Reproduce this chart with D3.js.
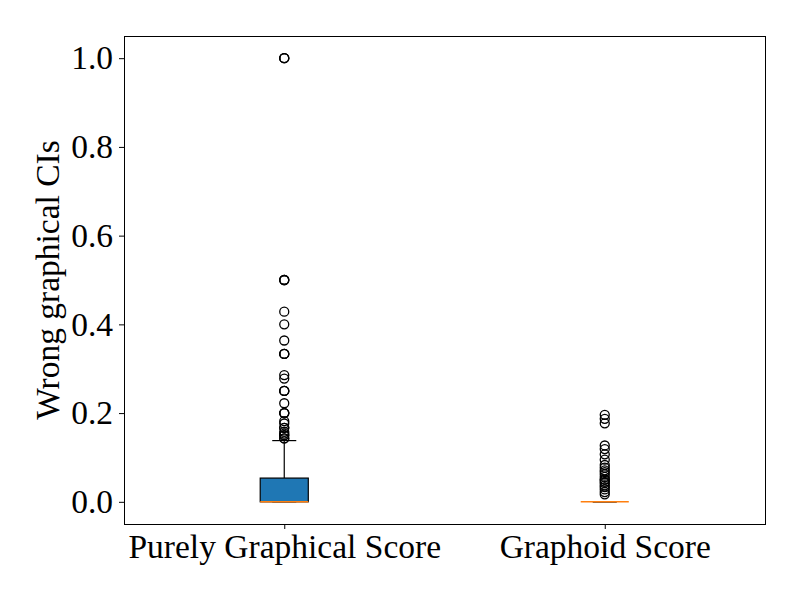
<!DOCTYPE html>
<html>
<head>
<meta charset="utf-8">
<script src="https://cdn.jsdelivr.net/npm/d3@7"></script>
<style>
  body { margin: 0; background: #fff; }
  text { font-family: "Liberation Serif", "DejaVu Serif", serif; }
</style>
</head>
<body>
<div id="chart"></div>
<script>
const WIDTH = 800;
const HEIGHT = 600;
const MARGIN = { top: 36, right: 35, bottom: 76, left: 124 };
const FONT_SIZE = 33.5;

// box statistics per group
const categories = ['Purely Graphical Score', 'Graphoid Score'];
const whiskerLow = [0, 0];
const q1 = [0, 0];
const median = [0, 0];
const q3 = [0.0535, 0];
const whiskerHigh = [0.138, 0];

// fliers (repeated values are points drawn on top of each other)
const outliersPurely = [1.0, 1.0, 1.0, 0.5, 0.5, 0.5, 0.4286, 0.4, 0.3636, 0.3333, 0.3333, 0.3333,
  0.2857, 0.2778, 0.25, 0.25, 0.25, 0.2222, 0.2, 0.2, 0.2,
  0.1818, 0.1765, 0.1667, 0.1667, 0.1579, 0.1538, 0.15, 0.15, 0.1429, 0.1429];
const outliersGraphoid = [0.196, 0.187, 0.177, 0.127, 0.119, 0.107, 0.095,
  0.083, 0.077, 0.071, 0.067, 0.062, 0.056, 0.05, 0.05, 0.045, 0.042, 0.037, 0.033, 0.028, 0.022, 0.017];
const outliers = [outliersPurely, outliersGraphoid];

const yTicks = [0.0, 0.2, 0.4, 0.6, 0.8, 1.0];

const svg = d3.select('#chart')
  .append('svg')
  .attr('width', WIDTH)
  .attr('height', HEIGHT);

const x = d3.scaleLinear()
  .domain([0.5, 2.5])
  .range([MARGIN.left, WIDTH - MARGIN.right]);

const y = d3.scaleLinear()
  .domain([-0.05, 1.05])
  .range([HEIGHT - MARGIN.bottom, MARGIN.top]);

const boxW = x(1.15) - x(1);
const capW = boxW / 2;

const groups = categories.map((c, i) => ({
  name: c, pos: i + 1,
  lo: whiskerLow[i], q1: q1[i], med: median[i], q3: q3[i], hi: whiskerHigh[i],
  fliers: outliers[i]
}));

const g = svg.selectAll('g.box')
  .data(groups)
  .enter()
  .append('g')
  .attr('class', 'box');

// whiskers
g.append('line')
  .attr('x1', d => x(d.pos)).attr('x2', d => x(d.pos))
  .attr('y1', d => y(d.q3)).attr('y2', d => y(d.hi))
  .attr('stroke', '#000').attr('stroke-width', 1.2);
g.append('line')
  .attr('x1', d => x(d.pos)).attr('x2', d => x(d.pos))
  .attr('y1', d => y(d.q1)).attr('y2', d => y(d.lo))
  .attr('stroke', '#000').attr('stroke-width', 1.2);
// caps
['lo', 'hi'].forEach(k => {
  g.append('line')
    .attr('x1', d => x(d.pos) - capW / 2).attr('x2', d => x(d.pos) + capW / 2)
    .attr('y1', d => y(d[k])).attr('y2', d => y(d[k]))
    .attr('stroke', '#000').attr('stroke-width', 1.2);
});

// box
g.append('rect')
  .attr('x', d => x(d.pos) - boxW / 2)
  .attr('y', d => y(d.q3))
  .attr('width', boxW)
  .attr('height', d => Math.max(0, y(d.q1) - y(d.q3)))
  .attr('fill', '#1f77b4')
  .attr('stroke', '#000')
  .attr('stroke-width', 1.2);

// median
g.append('line')
  .attr('x1', d => x(d.pos) - boxW / 2).attr('x2', d => x(d.pos) + boxW / 2)
  .attr('y1', d => y(d.med)).attr('y2', d => y(d.med))
  .attr('stroke', '#ff7f0e').attr('stroke-width', 1.5);

// fliers
g.selectAll('circle')
  .data(d => d.fliers.map(v => ({ pos: d.pos, v })))
  .enter()
  .append('circle')
  .attr('cx', d => x(d.pos))
  .attr('cy', d => y(d.v))
  .attr('r', 4.5)
  .attr('fill', 'none')
  .attr('stroke', '#000')
  .attr('stroke-width', 1.3);

// frame
svg.append('rect')
  .attr('x', MARGIN.left + 0.5).attr('y', MARGIN.top + 0.5)
  .attr('width', WIDTH - MARGIN.left - MARGIN.right)
  .attr('height', HEIGHT - MARGIN.top - MARGIN.bottom)
  .attr('fill', 'none').attr('stroke', '#000').attr('stroke-width', 1);

// axes
const yAxis = d3.axisLeft(y).tickValues(yTicks).tickFormat(d3.format('.1f')).tickSize(5).tickPadding(6);
svg.append('g')
  .attr('transform', `translate(${MARGIN.left},0)`)
  .call(yAxis)
  .call(a => a.select('.domain').remove())
  .selectAll('text')
  .attr('font-size', FONT_SIZE)
  .attr('font-family', '"Liberation Serif", serif')
  .attr('fill', '#000');

const xAxis = d3.axisBottom(x).tickValues([1, 2]).tickFormat(d => categories[d - 1]).tickSize(5).tickPadding(5);
svg.append('g')
  .attr('transform', `translate(0,${HEIGHT - MARGIN.bottom})`)
  .call(xAxis)
  .call(a => a.select('.domain').remove())
  .selectAll('text')
  .attr('font-size', FONT_SIZE)
  .attr('font-family', '"Liberation Serif", serif')
  .attr('fill', '#000');

svg.append('text')
  .attr('transform', `translate(59,${(MARGIN.top + HEIGHT - MARGIN.bottom) / 2}) rotate(-90)`)
  .attr('text-anchor', 'middle')
  .attr('font-size', FONT_SIZE)
  .text('Wrong graphical CIs');
</script>
</body>
</html>
